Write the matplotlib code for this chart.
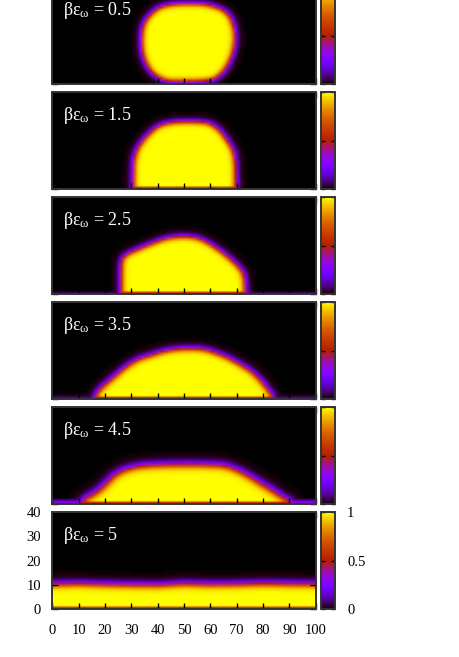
import numpy as np
import matplotlib
matplotlib.use('Agg')
import matplotlib.pyplot as plt
from matplotlib.path import Path

plt.rcParams['font.family'] = ['Liberation Serif', 'DejaVu Serif']
plt.rcParams['mathtext.fontset'] = 'stix'

# wall attraction values, one per panel
eps_labels = ['0.5', '1.5', '2.5', '3.5', '4.5', '5']

# 0.5-density outlines of the droplets (x, y)
drop_05 = [(52, 33.2), (58, 33), (63.7, 31.2), (66.5, 29), (68.1, 26.4), (69.2, 22),
           (69.4, 18.1), (68.8, 14), (67.5, 9.9), (65.8, 6.5), (63.7, 3.7), (60, 1.2),
           (45, 1.0), (42.1, 1.8), (39.3, 3.5), (37.1, 5.8), (35.2, 9.5), (34, 14),
           (33.9, 20.9), (35, 25.5), (37.7, 29.2), (41, 31.8), (46, 33)]
drop_15 = [(30.8, -5), (30.8, 6), (31, 12), (32.3, 16.5), (34.6, 20.2), (37.5, 23.6),
           (40.9, 26.4), (46, 27.6), (51, 27.8), (55.5, 27.7), (59.9, 27.1), (63.5, 24.2),
           (66.2, 20.2), (68.4, 16.5), (69.4, 12), (69.6, 6), (69.6, -5)]
drop_25 = [(26.2, -5), (26.2, 8), (26.3, 13.3), (27.6, 16), (33.3, 18.8), (39.6, 21.6),
           (43.5, 23), (47.2, 23.6), (51, 23.7), (54.8, 23.2), (58.5, 21.5), (62.4, 18.8),
           (65.8, 16), (68.7, 13.3), (70.8, 11), (72.5, 8.5), (73.2, 4), (73.2, -5)]
drop_35 = [(14.5, -5), (16.8, 2), (19, 5), (21.9, 7.5), (25.5, 11), (29.5, 14.4),
           (33, 16.5), (37.1, 17.9), (42, 19.6), (47.2, 20.6), (52, 20.8), (57.3, 20.6),
           (62, 19), (66.2, 17.2), (70.5, 14.7), (75.1, 11.7), (78, 8.8), (80.1, 6.2),
           (82, 3.5), (83.3, 1.4), (85, -5)]
drop_45 = [(9.5, -5), (11.8, 1.6), (15, 3.5), (18.1, 5.8), (21, 8.8), (23.2, 11.3),
           (26, 13.3), (29.5, 14.7), (34, 15.7), (39.6, 16.1), (50, 16.3), (62.4, 16.1),
           (66.5, 15.4), (70, 14), (74.5, 11.5), (78.9, 8.5), (83.5, 5.5), (87.7, 2.4),
           (90.2, 1), (92, -5)]

# wetting film for the last panel: thickness at x = 0, 10, ..., 100
film_x = [0, 10, 20, 30, 40, 50, 60, 70, 80, 90, 100]
film_h = [10.2, 10.4, 10.1, 9.9, 9.8, 10.4, 10.1, 10.2, 10.5, 10.3, 10.2]

# interface widths and thin wall layer density (first two rows)
widths = [1.25, 1.25, 1.25, 1.35, 1.7, 1.6]
wall_film = [(0.0, 0.0), (0.0, 0.0), (0.06, 0.0), (0.1, 0.02), (0.32, 0.12), (0.0, 0.0)]
wall_cap = 0.55
vapour = 0.003

xc = np.arange(100) + 0.5
yc = np.arange(40) + 0.5
X, Y = np.meshgrid(xc, yc)
pts = np.column_stack([X.ravel(), Y.ravel()])


def rounded(poly, n=2):
    # Chaikin corner cutting, keeps the read outline but softens its corners
    p = np.array(poly, dtype=float)
    for _ in range(n):
        q = np.roll(p, -1, axis=0)
        p = np.column_stack([0.75 * p + 0.25 * q, 0.25 * p + 0.75 * q]).reshape(-1, 2)
    return p


def outline_distance(poly):
    p = rounded(poly)
    b = np.roll(p, -1, axis=0)
    d = np.full(len(pts), np.inf)
    for s, e in zip(p, b):
        v = e - s
        t = np.clip(((pts - s) @ v) / (v @ v), 0, 1)
        proj = s + t[:, None] * v
        d = np.minimum(d, np.hypot(*(pts - proj).T))
    inside = Path(p).contains_points(pts)
    d[inside] *= -1
    return d.reshape(X.shape)


def density(dist, w, film):
    rho = vapour + (1 - vapour) * 0.5 * (1 - np.tanh(dist / w))
    for r in range(2):
        rho[r] = np.maximum(rho[r], film[r])
    rho[0] = np.minimum(rho[0], wall_cap)
    return rho


fields = []
for k, poly in enumerate([drop_05, drop_15, drop_25, drop_35, drop_45]):
    fields.append(density(outline_distance(poly), widths[k], wall_film[k]))
film_dist = Y - np.interp(xc, film_x, film_h)[None, :]
fields.append(density(film_dist, widths[5], wall_film[5]))

fig = plt.figure(figsize=(4.6, 6.57), dpi=100)
W, H = 460.0, 657.0
frame = '#333333'

for k in range(6):
    bot_px = 609 - 105 * (5 - k)
    ax = fig.add_axes([52.3 / W, 1 - bot_px / H, 263.4 / W, 97 / H])
    im = ax.imshow(fields[k], cmap='gnuplot', vmin=0, vmax=1, origin='lower',
                   extent=[0, 100, 0, 40], aspect='auto', interpolation='bilinear')
    ax.set_xlim(0, 100)
    ax.set_ylim(0, 40)
    ax.set_xticks(np.arange(0, 101, 10))
    ax.set_yticks(np.arange(0, 41, 10))
    ax.tick_params(direction='in', top=True, right=True, length=4.5, width=1,
                   color='black', labelsize=10.5, pad=11)
    for sp in ax.spines.values():
        sp.set_color(frame)
        sp.set_linewidth(1.4)
    if k < 5:
        ax.set_xticklabels([])
        ax.set_yticklabels([])
    else:
        ax.tick_params(axis='y', pad=8)
    ax.text(0.04, 0.76, r'$\mathregular{βε_{ω}}$' + ' = ' + eps_labels[k],
            transform=ax.transAxes, color='white', fontsize=13, va='center', ha='left')

    cax = fig.add_axes([320.7 / W, 1 - bot_px / H, 14 / W, 97 / H])
    cb = fig.colorbar(im, cax=cax)
    cb.outline.set_edgecolor(frame)
    cb.outline.set_linewidth(1.4)
    cax.yaxis.set_ticks_position('both')
    cax.tick_params(direction='in', left=True, right=True, length=3, width=1,
                    color='black', labelsize=10.5, pad=9)
    cb.set_ticks([0, 0.5, 1])
    if k < 5:
        cax.set_yticklabels([])
    else:
        cax.set_yticklabels(['0', '0.5', '1'])

fig.savefig('out.png', dpi=100)
